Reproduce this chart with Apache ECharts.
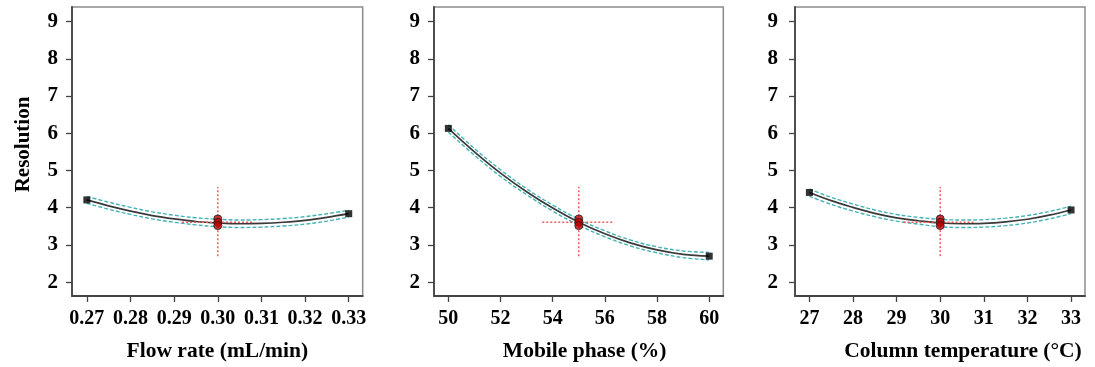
<!DOCTYPE html>
<html><head><meta charset="utf-8">
<script src="https://cdn.jsdelivr.net/npm/echarts@6/dist/echarts.min.js"></script>
<style>html,body{margin:0;padding:0;background:#fff}#c{width:1095px;height:367px}</style>
</head><body><div id="c"></div><script>
// ---- data ----
const yTickValues = [2, 3, 4, 5, 6, 7, 8, 9];
const yTitle = 'Resolution';
const xTitles = ['Flow rate (mL/min)', 'Mobile phase (%)', 'Column temperature (\u00B0C)'];

// Panel 1: flow rate
const flowTicks = [0.27, 0.28, 0.29, 0.30, 0.31, 0.32, 0.33];
const flowX     = [0.27, 0.275, 0.28, 0.285, 0.29, 0.295, 0.30, 0.305, 0.31, 0.315, 0.32, 0.325, 0.33];
const flowMid   = [4.21, 4.05, 3.91, 3.79, 3.70, 3.63, 3.59, 3.57, 3.58, 3.61, 3.66, 3.74, 3.84];
const flowUpper = [4.30, 4.15, 4.01, 3.89, 3.80, 3.73, 3.69, 3.67, 3.68, 3.71, 3.76, 3.84, 3.93];
const flowLower = [4.12, 3.96, 3.82, 3.70, 3.61, 3.54, 3.49, 3.47, 3.48, 3.51, 3.56, 3.64, 3.75];
const flowEndX  = [0.27, 0.33];
const flowEndY  = [4.21, 3.84];
const flowCenter = 0.30;
const flowHLine = [0.2918, 0.3081];

// Panel 2: mobile phase
const mobTicks = [50, 52, 54, 56, 58, 60];
const mobX     = [50, 51, 52, 53, 54, 55, 56, 57, 58, 59, 60];
const mobMid   = [6.13, 5.50, 4.93, 4.43, 3.99, 3.61, 3.30, 3.05, 2.87, 2.75, 2.70];
const mobUpper = [6.23, 5.59, 5.02, 4.51, 4.07, 3.69, 3.38, 3.13, 2.95, 2.84, 2.80];
const mobLower = [6.03, 5.41, 4.84, 4.35, 3.91, 3.53, 3.22, 2.97, 2.79, 2.66, 2.60];
const mobEndX  = [50, 60];
const mobEndY  = [6.13, 2.70];
const mobCenter = 55;
const mobHLine = [53.6, 56.3];

// Panel 3: column temperature
const tempTicks = [27, 28, 29, 30, 31, 32, 33];
const tempX     = [27, 27.5, 28, 28.5, 29, 29.5, 30, 30.5, 31, 31.5, 32, 32.5, 33];
const tempMid   = [4.41, 4.19, 4.01, 3.85, 3.73, 3.65, 3.59, 3.57, 3.58, 3.62, 3.69, 3.80, 3.94];
const tempUpper = [4.50, 4.28, 4.10, 3.94, 3.82, 3.74, 3.69, 3.67, 3.68, 3.72, 3.79, 3.90, 4.04];
const tempLower = [4.31, 4.09, 3.91, 3.76, 3.64, 3.56, 3.49, 3.47, 3.48, 3.52, 3.59, 3.70, 3.84];
const tempEndX  = [27, 33];
const tempEndY  = [4.41, 3.94];
const tempCenter = 30;
const tempHLine = [29.16, 30.8];

// shared centre-point values
const centerRuns = [3.70, 3.61, 3.52];
const crossV = [2.70, 4.56];
const crossH = 3.61;

// ---- chart ----
const FONT = '"Liberation Serif", "Times New Roman", serif';
const panels = [
  {ticks: flowTicks, x: flowX, mid: flowMid, up: flowUpper, lo: flowLower, ex: flowEndX, ey: flowEndY, c: flowCenter, h: flowHLine,
   min: 0.2666, max: 0.3332, fmt: v => v.toFixed(2), left: 72, width: 290.7, lblMargin: 14, namePad: [0,0,0,0]},
  {ticks: mobTicks, x: mobX, mid: mobMid, up: mobUpper, lo: mobLower, ex: mobEndX, ey: mobEndY, c: mobCenter, h: mobHLine,
   min: 49.45, max: 60.54, fmt: v => String(v), left: 434, width: 289.3, lblMargin: 14, namePad: [0,0,0,12]},
  {ticks: tempTicks, x: tempX, mid: tempMid, up: tempUpper, lo: tempLower, ex: tempEndX, ey: tempEndY, c: tempCenter, h: tempHLine,
   min: 26.67, max: 33.32, fmt: v => String(v), left: 795, width: 290, lblMargin: 17, namePad: [0,0,0,46]}
];

const zip = (xs, ys) => xs.map((x, k) => [x, ys[k]]);
const grids = [], xAxes = [], yAxes = [], series = [];
const axisDark = {show: true, lineStyle: {color: '#444', width: 1.8}};
const tickStyle = {show: true, length: 6, lineStyle: {color: '#444', width: 1.3}};

panels.forEach((p, i) => {
  grids.push({left: p.left, width: p.width, top: 7, height: 290, show: true,
    borderColor: '#8c8c8c', borderWidth: 1.5, backgroundColor: 'transparent'});
  xAxes.push({type: 'value', gridIndex: i, min: p.min, max: p.max,
    axisLine: axisDark, splitLine: {show: false},
    axisTick: Object.assign({customValues: p.ticks}, tickStyle),
    axisLabel: {customValues: p.ticks, formatter: p.fmt, margin: 13, color: '#000',
      fontFamily: FONT, fontWeight: 'bold', fontSize: 20},
    name: xTitles[i], nameLocation: 'middle', nameGap: 44,
    nameTextStyle: {fontFamily: FONT, fontWeight: 'bold', fontSize: 21.5, color: '#000', padding: p.namePad}});
  yAxes.push({type: 'value', gridIndex: i, min: 1.63, max: 9.39,
    axisLine: axisDark, splitLine: {show: false},
    axisTick: Object.assign({customValues: yTickValues}, tickStyle),
    axisLabel: {customValues: yTickValues, margin: p.lblMargin, color: '#000',
      fontFamily: FONT, fontWeight: 'bold', fontSize: 21},
    name: i === 0 ? yTitle : '', nameLocation: 'middle', nameGap: 38,
    nameTextStyle: {fontFamily: FONT, fontWeight: 'bold', fontSize: 21, color: '#000', padding: [0,0,0,14]}});

  const base = {xAxisIndex: i, yAxisIndex: i, silent: true, animation: false};
  const dashed = {color: '#45b3b6', width: 1.4, type: [4, 2]};
  series.push(Object.assign({type: 'line', data: zip(p.x, p.up), symbol: 'none', smooth: 0.4, lineStyle: dashed, z: 3}, base));
  series.push(Object.assign({type: 'line', data: zip(p.x, p.lo), symbol: 'none', smooth: 0.4, lineStyle: dashed, z: 3}, base));
  series.push(Object.assign({type: 'line', data: zip(p.x, p.mid), symbol: 'none', smooth: 0.4,
    lineStyle: {color: '#3a3a3a', width: 1.7}, z: 4}, base));
  const red = {color: '#f25a5a', width: 1.5, type: [2, 2]};
  series.push(Object.assign({type: 'line', data: [[p.c, crossV[0]], [p.c, crossV[1]]], symbol: 'none', lineStyle: red, z: 5}, base));
  series.push(Object.assign({type: 'line', data: [[p.h[0], crossH], [p.h[1], crossH]], symbol: 'none', lineStyle: red, z: 5}, base));
  series.push(Object.assign({type: 'scatter', data: zip(p.ex, p.ey), symbol: 'rect', symbolSize: 7,
    itemStyle: {color: '#000'}, z: 6}, base));
  series.push(Object.assign({type: 'scatter', data: centerRuns.map(v => [p.c, v]), symbol: 'circle', symbolSize: 8,
    itemStyle: {color: '#c00000', borderColor: '#222', borderWidth: 1}, z: 7}, base));
});

const chart = echarts.init(document.getElementById('c'), null, {renderer: 'canvas'});
chart.setOption({animation: false, backgroundColor: '#fff', grid: grids, xAxis: xAxes, yAxis: yAxes, series: series});
</script></body></html>
